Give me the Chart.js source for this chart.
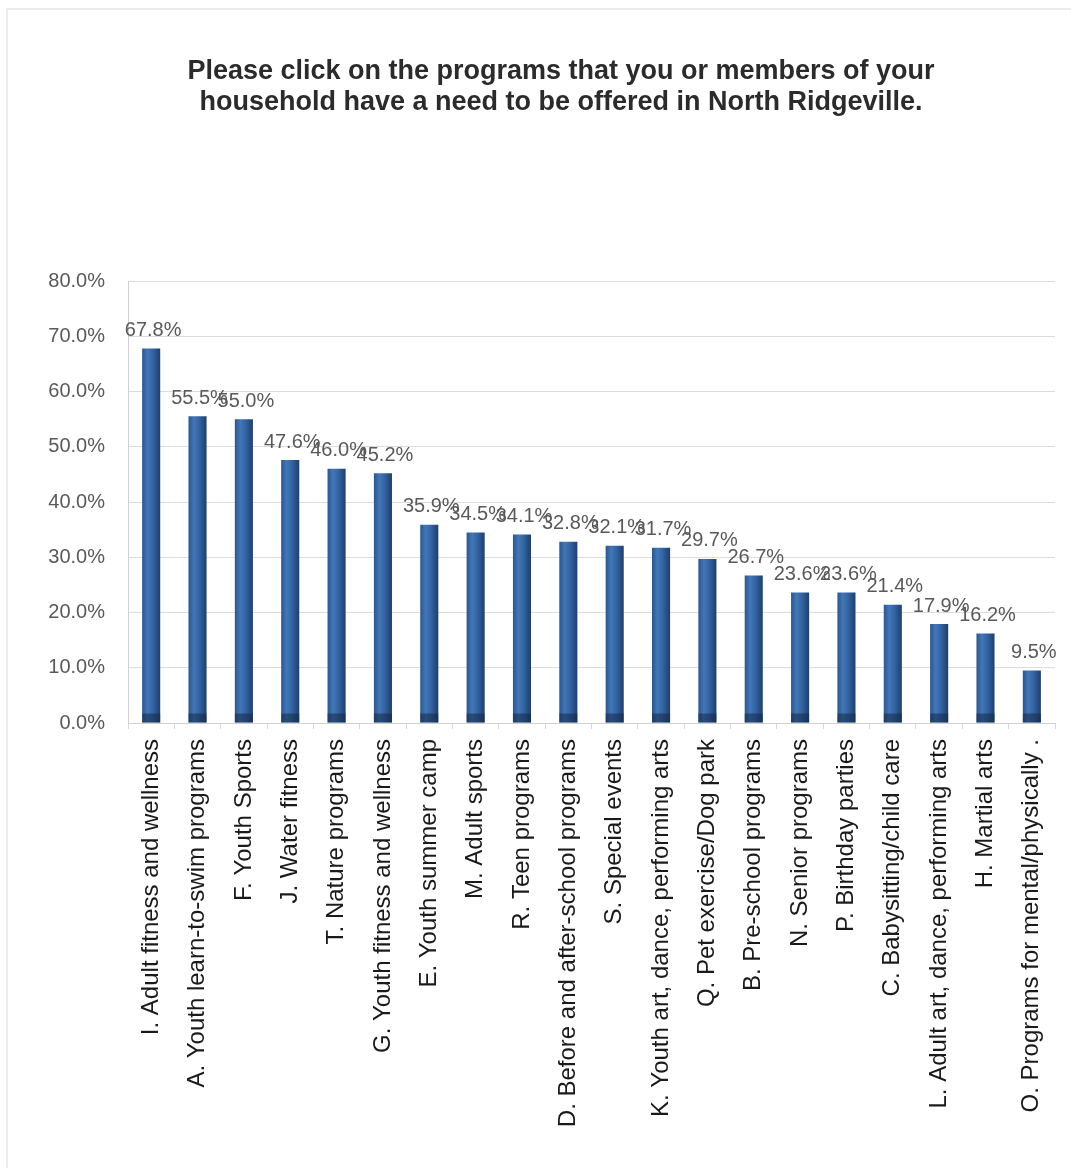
<!DOCTYPE html>
<html>
<head>
<meta charset="utf-8">
<script src="https://cdn.jsdelivr.net/npm/chart.js@4.4.1/dist/chart.umd.min.js"></script>
<style>
  html, body { margin: 0; padding: 0; background: #ffffff; }
  #wrap { position: relative; width: 1071px; height: 1168px; overflow: hidden; }
  #frame { position: absolute; left: 6px; top: 8px; width: 1200px; height: 1300px;
           border-left: 2px solid #ececec; border-top: 2px solid #ececec; box-sizing: border-box; }
  canvas { position: absolute; left: 0; top: 0; }
</style>
</head>
<body>
<div id="wrap">
  <div id="frame"></div>
  <canvas id="c" width="1071" height="1168"></canvas>
</div>
<script>
const titleLines = [
  "Please click on the programs that you or members of your",
  "household have a need to be offered in North Ridgeville."
];
const categories = [
  "I. Adult fitness and wellness",
  "A. Youth learn-to-swim programs",
  "F. Youth Sports",
  "J. Water fitness",
  "T. Nature programs",
  "G. Youth fitness and wellness",
  "E. Youth summer camp",
  "M. Adult sports",
  "R. Teen programs",
  "D. Before and after-school programs",
  "S. Special events",
  "K. Youth art, dance, performing arts",
  "Q. Pet exercise/Dog park",
  "B. Pre-school programs",
  "N. Senior programs",
  "P. Birthday parties",
  "C. Babysitting/child care",
  "L. Adult art, dance, performing arts",
  "H. Martial arts",
  "O. Programs for mental/physically ."
];
const values = [67.8, 55.5, 55.0, 47.6, 46.0, 45.2, 35.9, 34.5, 34.1, 32.8, 32.1, 31.7, 29.7, 26.7, 23.6, 23.6, 21.4, 17.9, 16.2, 9.5];
const yMin = 0, yMax = 80, yStep = 10;

const barPct = 0.39;

function barFill(ctx) {
  const chart = ctx.chart;
  const xs = chart.scales && chart.scales.x;
  if (!xs || ctx.type !== 'data' || !isFinite(xs.width) || xs.width <= 0) return '#2f5f9c';
  const x = xs.getPixelForValue(ctx.dataIndex);
  const w = xs.width / categories.length * barPct;
  if (!isFinite(x)) return '#2f5f9c';
  const g = chart.ctx.createLinearGradient(x - w / 2, 0, x + w / 2, 0);
  g.addColorStop(0, '#2a5690');
  g.addColorStop(0.3, '#4277b8');
  g.addColorStop(0.6, '#3363a2');
  g.addColorStop(1, '#1d3f6e');
  return g;
}

const titlePlugin = {
  id: 'titleText',
  afterDraw(chart) {
    const c = chart.ctx;
    c.save();
    c.font = 'bold 27px "Liberation Sans", Arial, sans-serif';
    c.fillStyle = '#2b2b2b';
    c.textAlign = 'center';
    c.textBaseline = 'middle';
    c.fillText(titleLines[0], 561, 72);
    c.fillText(titleLines[1], 561, 103);
    c.restore();
  }
};

const valueLabels = {
  id: 'valueLabels',
  afterDatasetsDraw(chart) {
    const c = chart.ctx;
    const meta = chart.getDatasetMeta(0);
    c.save();
    c.font = '20px "Liberation Sans", Arial, sans-serif';
    c.fillStyle = '#595959';
    c.textAlign = 'center';
    c.textBaseline = 'bottom';
    meta.data.forEach((el, i) => {
      c.fillText(values[i].toFixed(1) + '%', el.x + 2, el.y - 8);
    });
    c.restore();
  }
};

const baseCap = {
  id: 'baseCap',
  afterDatasetsDraw(chart) {
    const c = chart.ctx;
    const meta = chart.getDatasetMeta(0);
    c.save();
    meta.data.forEach((el) => {
      const w = el.width;
      c.fillStyle = 'rgba(20,40,70,0.55)';
      c.fillRect(el.x - w / 2, el.base - 9, w, 9);
    });
    c.restore();
  }
};

new Chart(document.getElementById('c'), {
  type: 'bar',
  data: {
    labels: categories,
    datasets: [{
      data: values,
      backgroundColor: barFill,
      borderWidth: 0,
      barPercentage: barPct,
      categoryPercentage: 1.0
    }]
  },
  options: {
    responsive: false,
    animation: false,
    devicePixelRatio: 1,
    layout: { padding: { left: 0, right: 14, top: 281, bottom: 0 } },
    plugins: {
      legend: { display: false },
      tooltip: { enabled: false },
      title: { display: false }
    },
    scales: {
      x: {
        grid: { display: true, drawOnChartArea: false, drawTicks: true, tickLength: 6, color: '#d9d9d9', offset: true },
        border: { display: true, color: '#d0d0d0', width: 1 },
        ticks: {
          autoSkip: false,
          minRotation: 90,
          maxRotation: 90,
          padding: 10,
          color: '#1a1a1a',
          font: { family: '"Liberation Sans", Arial, sans-serif', size: 24 }
        },
        afterFit(scale) { scale.height = 445; }
      },
      y: {
        min: yMin,
        max: yMax,
        grid: { color: '#dcdcdc', lineWidth: 1, drawTicks: false },
        border: { display: true, color: '#d0d0d0', width: 1 },
        ticks: {
          stepSize: yStep,
          padding: 23,
          color: '#595959',
          font: { family: '"Liberation Sans", Arial, sans-serif', size: 20 },
          callback: (v) => Number(v).toFixed(1) + '%'
        },
        afterFit(scale) { scale.width = 128; }
      }
    }
  },
  plugins: [baseCap, valueLabels, titlePlugin]
});
</script>
</body>
</html>
